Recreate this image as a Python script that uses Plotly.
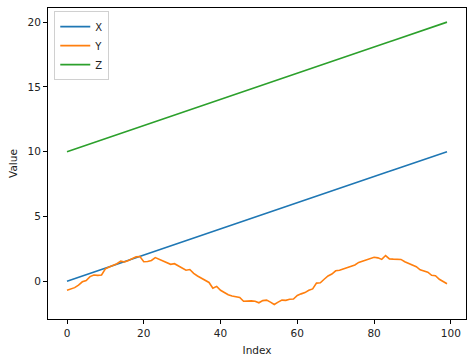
import plotly.graph_objects as go

index = list(range(100))

X = [0.00, 0.10, 0.20, 0.30, 0.40, 0.51, 0.61, 0.71, 0.81, 0.91,
     1.01, 1.11, 1.21, 1.31, 1.41, 1.52, 1.62, 1.72, 1.82, 1.92,
     2.02, 2.12, 2.22, 2.32, 2.42, 2.53, 2.63, 2.73, 2.83, 2.93,
     3.03, 3.13, 3.23, 3.33, 3.43, 3.54, 3.64, 3.74, 3.84, 3.94,
     4.04, 4.14, 4.24, 4.34, 4.44, 4.55, 4.65, 4.75, 4.85, 4.95,
     5.05, 5.15, 5.25, 5.35, 5.45, 5.56, 5.66, 5.76, 5.86, 5.96,
     6.06, 6.16, 6.26, 6.36, 6.46, 6.57, 6.67, 6.77, 6.87, 6.97,
     7.07, 7.17, 7.27, 7.37, 7.47, 7.58, 7.68, 7.78, 7.88, 7.98,
     8.08, 8.18, 8.28, 8.38, 8.48, 8.59, 8.69, 8.79, 8.89, 8.99,
     9.09, 9.19, 9.29, 9.39, 9.49, 9.60, 9.70, 9.80, 9.90, 10.00]

Y = [-0.70, -0.62, -0.50, -0.30, -0.05, 0.05, 0.35, 0.48, 0.45, 0.48,
     0.95, 1.10, 1.20, 1.35, 1.55, 1.48, 1.60, 1.75, 1.88, 1.90,
     1.50, 1.52, 1.60, 1.82, 1.70, 1.60, 1.45, 1.30, 1.35, 1.20,
     1.05, 0.85, 0.90, 0.60, 0.40, 0.22, 0.02, -0.10, -0.55, -0.40,
     -0.70, -0.90, -1.05, -1.15, -1.22, -1.26, -1.55, -1.52, -1.52, -1.55,
     -1.67, -1.50, -1.46, -1.62, -1.80, -1.62, -1.46, -1.48, -1.40, -1.38,
     -1.10, -0.98, -0.88, -0.70, -0.60, -0.15, -0.12, 0.15, 0.40, 0.55,
     0.80, 0.85, 0.95, 1.10, 1.18, 1.25, 1.45, 1.55, 1.68, 1.75,
     1.85, 1.80, 1.68, 1.98, 1.72, 1.70, 1.68, 1.68, 1.50, 1.38,
     1.20, 1.12, 0.88, 0.80, 0.70, 0.45, 0.42, 0.15, -0.02, -0.20]

Z = [10.00, 10.10, 10.20, 10.30, 10.40, 10.51, 10.61, 10.71, 10.81, 10.91,
     11.01, 11.11, 11.21, 11.31, 11.41, 11.52, 11.62, 11.72, 11.82, 11.92,
     12.02, 12.12, 12.22, 12.32, 12.42, 12.53, 12.63, 12.73, 12.83, 12.93,
     13.03, 13.13, 13.23, 13.33, 13.43, 13.54, 13.64, 13.74, 13.84, 13.94,
     14.04, 14.14, 14.24, 14.34, 14.44, 14.55, 14.65, 14.75, 14.85, 14.95,
     15.05, 15.15, 15.25, 15.35, 15.45, 15.56, 15.66, 15.76, 15.86, 15.96,
     16.06, 16.16, 16.26, 16.36, 16.46, 16.57, 16.67, 16.77, 16.87, 16.97,
     17.07, 17.17, 17.27, 17.37, 17.47, 17.58, 17.68, 17.78, 17.88, 17.98,
     18.08, 18.18, 18.28, 18.38, 18.48, 18.59, 18.69, 18.79, 18.89, 18.99,
     19.09, 19.19, 19.29, 19.39, 19.49, 19.60, 19.70, 19.80, 19.90, 20.00]

series_names = ["X", "Y", "Z"]
colors = ["#1f77b4", "#ff7f0e", "#2ca02c"]
x_ticks = [0, 20, 40, 60, 80, 100]
y_ticks = [0, 5, 10, 15, 20]

fig = go.Figure()
for name, vals, col in zip(series_names, [X, Y, Z], colors):
    fig.add_trace(go.Scatter(x=index, y=vals, mode="lines", name=name,
                             line=dict(color=col, width=1.6)))

axis_common = dict(showline=True, linecolor="black", linewidth=1, mirror=True,
                   ticks="outside", ticklen=4, tickcolor="black", tickwidth=1,
                   showgrid=False, zeroline=False, automargin=False,
                   tickfont=dict(family="DejaVu Sans", size=10.5, color="#222"))

fig.update_layout(
    width=474, height=364,
    margin=dict(l=48, r=8, t=8, b=45, autoexpand=False),
    paper_bgcolor="white", plot_bgcolor="white",
    font=dict(family="DejaVu Sans", size=10.5, color="#222"),
    xaxis=dict(range=[-4.95, 103.95], tickvals=x_ticks,
               title=dict(text="Index", standoff=9, font=dict(size=10.5)), **axis_common),
    yaxis=dict(range=[-2.92, 21.09], tickvals=y_ticks,
               title=dict(text="Value", standoff=7, font=dict(size=10.5)), **axis_common),
    legend=dict(x=0.015, y=0.99, xanchor="left", yanchor="top",
                bgcolor="rgba(255,255,255,0.8)", bordercolor="#d0d0d0", borderwidth=1,
                font=dict(size=10), itemwidth=30, tracegroupgap=0),
    showlegend=True,
)

fig.write_html("out.html", config={"displayModeBar": False},
               post_script="document.body.style.margin='0';")
